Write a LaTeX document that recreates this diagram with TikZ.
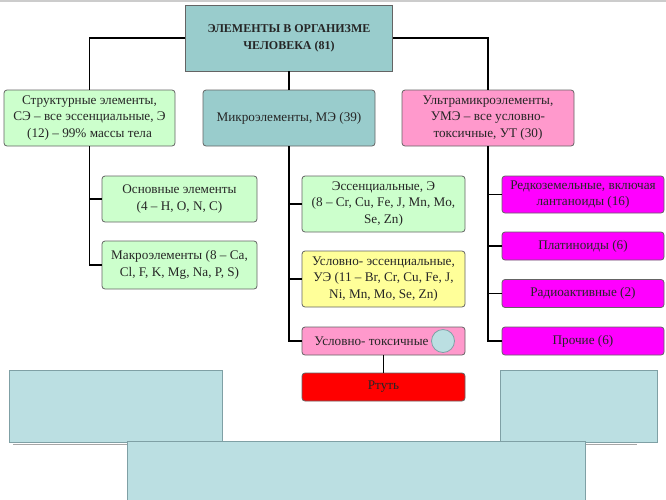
\documentclass[tikz,border=0pt]{standalone}
\usepackage{fontspec}
\setmainfont{Liberation Serif}
\definecolor{tealbox}{RGB}{153,204,204}
\definecolor{greenbox}{RGB}{204,255,204}
\definecolor{yellowbox}{RGB}{255,255,153}
\definecolor{pinkbox}{RGB}{255,153,204}
\definecolor{magbox}{RGB}{255,0,255}
\definecolor{redbox}{RGB}{255,0,0}
\definecolor{panel}{RGB}{187,223,226}
\definecolor{panelline}{RGB}{127,160,165}
\definecolor{boxline}{RGB}{100,100,100}
\begin{document}
\begin{tikzpicture}[x=1pt, y=-1pt,
    box/.style={draw=boxline, line width=0.8pt, rounded corners=3pt, align=center, inner sep=0pt,
        text=black!85, font=\fontsize{13.2}{16.5}\selectfont},
    topbox/.style={box, minimum width=172pt, minimum height=56pt},
    leftbox/.style={box, minimum width=155pt},
    midbox/.style={box, minimum width=163pt},
    rightbox/.style={box, minimum width=162pt, minimum height=28pt, fill=magbox},
    link/.style={line width=1.2pt},
    paneltile/.style={fill=panel, draw=panelline, line width=0.8pt}]
    \useasboundingbox (0,0) rectangle (666,499);
    \draw [gray!40, line width=2pt](0,1)--(666,1);
    % bottom panels
    \draw [paneltile](9,370) rectangle (222,442);
    \draw [paneltile](500,370) rectangle (657,442);
    \draw [gray!70, line width=1pt](13,444)--(637,444);
    \draw [paneltile](127,441) rectangle (585,505);
    % boxes
    \draw (289,38)node(t)[draw=boxline, line width=0.8pt, fill=tealbox, minimum width=207pt, minimum height=66pt,
        align=center, text=black!85, font=\fontsize{12}{17}\selectfont\bfseries]{ЭЛЕМЕНТЫ В ОРГАНИЗМЕ\\ЧЕЛОВЕКА (81)}
    (89.5,118)node(s)[topbox, minimum width=171pt, fill=greenbox]{Структурные элементы,\\СЭ – все эссенциальные, Э\\(12) – 99\% массы тела}
    (289,118)node(m)[topbox, fill=tealbox]{Микроэлементы, МЭ (39)}
    (488,118)node(u)[topbox, fill=pinkbox]{Ультрамикроэлементы,\\УМЭ – все условно-\\токсичные, УТ (30)}
    (179.5,199)node(s1)[leftbox, minimum height=46pt, fill=greenbox]{Основные элементы\\(4 – H, O, N, C)}
    (179.5,265)node(s2)[leftbox, minimum height=48pt, fill=greenbox]{Макроэлементы (8 – Ca,\\Cl, F, K, Mg, Na, P, S)}
    (383.5,204)node(m1)[midbox, minimum height=56pt, fill=greenbox]{Эссенциальные, Э\\(8 – Cr, Cu, Fe, J, Mn, Mo,\\Se, Zn)}
    (383.5,279)node(m2)[midbox, minimum height=56pt, fill=yellowbox]{Условно- эссенциальные,\\УЭ (11 – Br, Cr, Cu, Fe, J,\\Ni, Mn, Mo, Se, Zn)}
    (383.5,341)node(m3)[midbox, minimum height=28pt, fill=pinkbox]{Условно- токсичные\hspace*{24pt}}
    (383.5,387)node(hg)[midbox, minimum height=28pt, fill=redbox]{Ртуть}
    (443,341)node(dot)[circle, draw=panelline, line width=0.8pt, fill=panel, minimum size=23pt, inner sep=0pt]{}
    (583,194.5)node(u1)[rightbox, minimum height=37pt]{Редкоземельные, включая\\лантаноиды (16)}
    (583,246)node(u2)[rightbox]{Платиноиды (6)}
    (583,293.5)node(u3)[rightbox]{Радиоактивные (2)}
    (583,341)node(u4)[rightbox]{Прочие (6)};
    % connectors
    \draw [link](t.west) -| (s.north);
    \draw [link](t.east) -| (u.north);
    \draw [link](t.south) -- (m.north);
    \draw [link](s.south) |- (s1.west);
    \draw [link](s.south) |- (s2.west);
    \draw [link](m.south) |- (m1.west);
    \draw [link](m.south) |- (m2.west);
    \draw [link](m.south) |- (m3.west);
    \draw [link](m3.south) -- (hg.north);
    \draw [link](u.south) |- (u1.west);
    \draw [link](u.south) |- (u2.west);
    \draw [link](u.south) |- (u3.west);
    \draw [link](u.south) |- (u4.west);
\end{tikzpicture}
\end{document}
